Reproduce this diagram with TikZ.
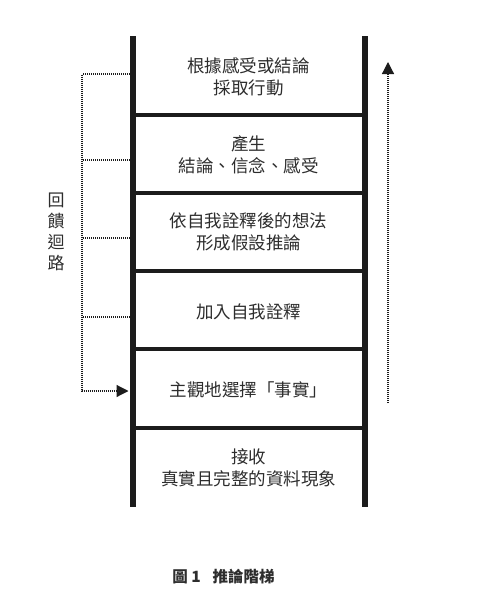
\documentclass[tikz,border=0pt]{standalone}
\usepackage{fontspec}
\setmainfont{Noto Sans CJK TC}
\usepackage{tikz}
\usetikzlibrary{arrows.meta}
\definecolor{railgray}{RGB}{28,28,28}
\definecolor{textgray}{RGB}{45,45,45}

\begin{document}
\begin{tikzpicture}[x=1pt,y=-1pt,
  rail/.style={line width=6pt,railgray},
  rung/.style={line width=4pt,railgray},
  stepbox/.style={align=center,font=\fontsize{17.5}{22}\selectfont,text=textgray,inner sep=0pt},
  loop/.style={line width=1.2pt,dash pattern=on 1pt off 1pt,railgray},
  tip/.style={-{Triangle[length=12pt,width=12pt]}}]
\useasboundingbox (0,0) rectangle (487,608);
% ladder
\draw[rail] (132.5,36) -- (132.5,507);
\draw[rail] (365,36) -- (365,507);
\foreach \y in {115,193,271,349,428}
  \draw[rung] (132.5,\y) -- (365,\y);
% rungs text
\node[stepbox] (act) at (248.5,76.5) {根據感受或結論\\採取行動};
\node[stepbox] (concl) at (248.5,155) {產生\\結論、信念、感受};
\node[stepbox] (assume) at (248.5,232) {依自我詮釋後的想法\\形成假設推論};
\node[stepbox] (meaning) at (248.5,312) {加入自我詮釋};
\node[stepbox] (select) at (248.5,390) {主觀地選擇「事實」};
\node[stepbox] (observe) at (248.5,468) {接收\\真實且完整的資料現象};
% feedback loop
\coordinate (fb0) at (129.5,74);
\coordinate (fb1) at (129.5,160);
\coordinate (fb2) at (129.5,238);
\coordinate (fb3) at (129.5,317);
\coordinate (fb4) at (128.5,391);
\coordinate (c0) at (82,74);
\coordinate (c1) at (82,160);
\coordinate (c2) at (82,238);
\coordinate (c3) at (82,317);
\coordinate (c4) at (82,391);
\draw[loop,tip] (fb0) -- (c0) -- (c4) -- (fb4);
\foreach \i in {1,2,3}
  \draw[loop] (fb\i) -- (c\i);
\node[stepbox,font=\fontsize{17}{21}\selectfont] (fblabel) at (56,232) {回\\饋\\迴\\路};
% climbing arrow
\coordinate (up0) at (388,403);
\coordinate (up1) at (388,62);
\draw[loop,tip] (up0) -- (up1);
% caption
\node[font=\fontsize{15.5}{18}\selectfont\bfseries,text=textgray] (cap) at (223.5,577) {圖 1\hspace{12pt}推論階梯};
\end{tikzpicture}
\end{document}
